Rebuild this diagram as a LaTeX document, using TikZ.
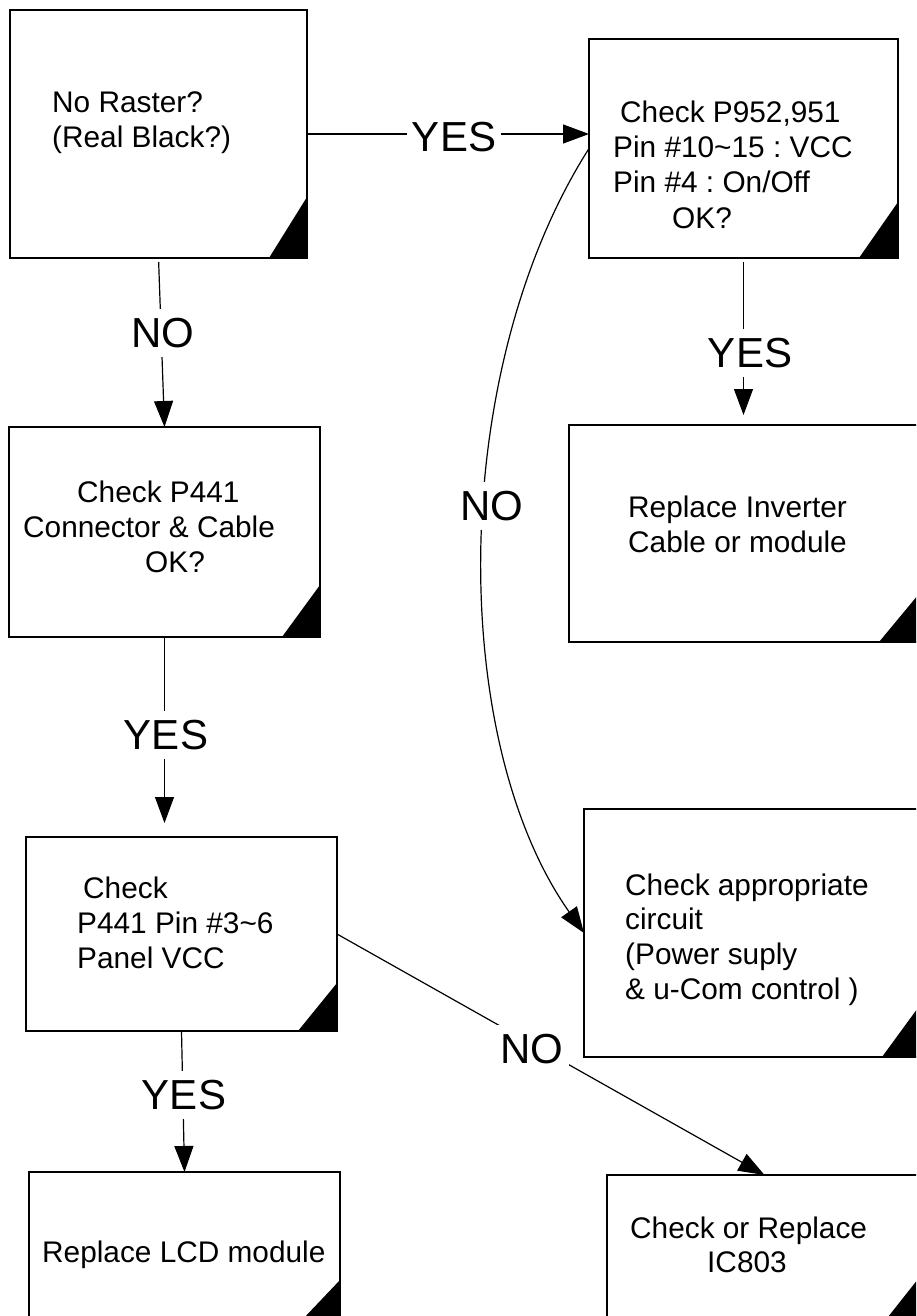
\documentclass[tikz,border=0pt]{standalone}
\usepackage{fontspec}
\setmainfont{Liberation Sans}
\usetikzlibrary{arrows.meta,calc}
\frenchspacing
\begin{document}
\begin{tikzpicture}[x=1pt,y=-1pt,
  box/.style={draw, line width=1.7pt, rectangle, inner sep=0pt, outer sep=0pt},
  txt/.style={anchor=base west, inner sep=0pt, font=\fontsize{29.8}{34}\selectfont},
  lbl/.style={fill=white, inner xsep=5pt, inner ysep=9pt, font=\fontsize{42}{50}\selectfont},
  conn/.style={line width=1.2pt, -{Triangle[length=26pt,width=19pt]}},
  corner/.style={fill=black}]
\useasboundingbox (0,0) rectangle (916,1316);
\clip (0,0) rectangle (916,1316);

% boxes
\node[box, minimum width=297pt, minimum height=248pt] (b1) at (158.5,134) {};
\node[box, minimum width=309pt, minimum height=219pt] (b2) at (743.5,148.5) {};
\node[box, minimum width=311pt, minimum height=210pt] (b3) at (164.5,532) {};
\node[box, minimum width=349pt, minimum height=217pt] (b4) at (743.5,533.5) {};
\node[box, minimum width=311pt, minimum height=194pt] (b5) at (181.5,934) {};
\node[box, minimum width=336pt, minimum height=248pt] (b6) at (752,933) {};
\node[box, minimum width=311pt, minimum height=148pt] (b7) at (184.5,1246) {};
\node[box, minimum width=315pt, minimum height=147pt] (b8) at (764.5,1248.5) {};

% black corners
\fill[corner] (b1.south east) -- ++(-38,0) -- ++(38,-61) -- cycle;
\fill[corner] (b2.south east) -- ++(-39,0) -- ++(39,-56) -- cycle;
\fill[corner] (b3.south east) -- ++(-38,0) -- ++(38,-52) -- cycle;
\fill[corner] (b4.south east) -- ++(-39,0) -- ++(39,-47) -- cycle;
\fill[corner] (b5.south east) -- ++(-39,0) -- ++(39,-48) -- cycle;
\fill[corner] (b6.south east) -- ++(-38,0) -- ++(38,-52) -- cycle;
\fill[corner] (b7.south east) -- ++(-38,0) -- ++(38,-40) -- cycle;
\fill[corner] (b8.south east) -- ++(-38,0) -- ++(38,-48) -- cycle;

% texts
\node[txt] (t1a) at (52,113) {No Raster?};
\node[txt] (t1b) at (52,148) {(Real Black?)};
\node[txt] (t2a) at (620,123) {Check P952,951};
\node[txt] (t2b) at (613,158) {Pin \#10\textasciitilde15 : VCC};
\node[txt] (t2c) at (613,193) {Pin \#4 : On/Off};
\node[txt] (t2d) at (672,228) {OK?};
\node[txt] (t3a) at (77,502) {Check P441};
\node[txt] (t3b) at (23,537) {Connector \& Cable};
\node[txt] (t3c) at (145,572) {OK?};
\node[txt] (t4a) at (628,517) {Replace Inverter};
\node[txt] (t4b) at (628,552) {Cable or module};
\node[txt] (t5a) at (83,898) {Check};
\node[txt] (t5b) at (77,933) {P441 Pin \#3\textasciitilde6};
\node[txt] (t5c) at (77,968) {Panel VCC};
\node[txt] (t6a) at (625,895) {Check appropriate};
\node[txt] (t6b) at (625,929) {circuit};
\node[txt] (t6c) at (625,964) {(Power suply};
\node[txt] (t6d) at (625,999) {\& u-Com control )};
\node[txt] (t7a) at (42,1262) {Replace LCD module};
\node[txt] (t8a) at (630,1238) {Check or Replace};
\node[txt] (t8b) at (707,1272) {IC803};

% connectors
\draw[conn] (b1.east) -- (b2.west |- b1.east);
\draw[conn, shorten <=4pt] (b1.south) -- (b3.north);
\draw[conn, shorten <=4pt, shorten >=10pt] (b2.south) -- (b4.north);
\draw[conn] (b2.west) .. controls (448,370) and (448,740) .. (b6.west);
\draw[conn, shorten >=14pt] (b3.south) -- (b3.south |- b5.north);
\draw[conn] (b5.south) -- (b7.north);
\draw[conn] (b5.east) -- (b8.north);

% connector labels
\node[lbl] (l1) at (454,137) {YES};
\node[lbl] (l2) at (163,333) {NO};
\node[lbl] (l3) at (750,353) {YES};
\node[lbl] (l4) at (492,506) {NO};
\node[lbl] (l5) at (166,735) {YES};
\node[lbl] (l6) at (184,1095) {YES};
\node[lbl] (l7) at (532,1049) {NO};
\end{tikzpicture}
\end{document}
